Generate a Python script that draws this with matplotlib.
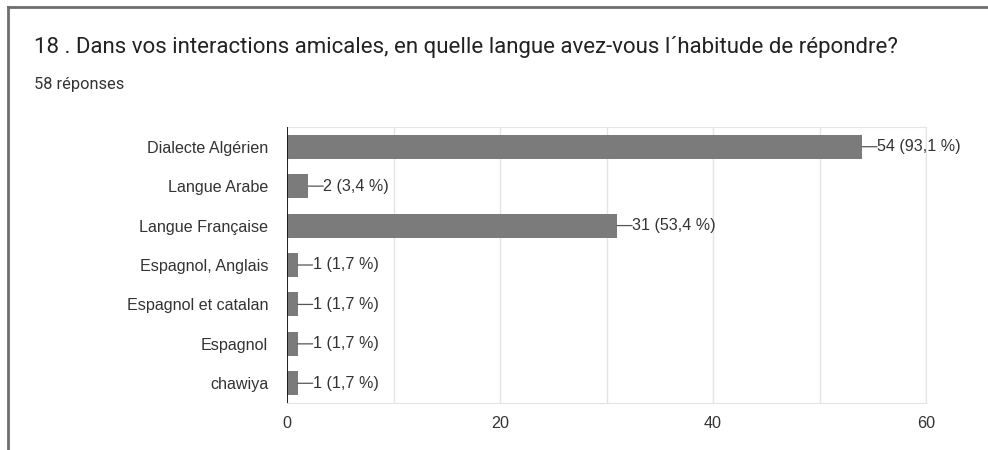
import matplotlib
matplotlib.use("Agg")
import matplotlib.pyplot as plt
from matplotlib.ticker import MultipleLocator

categories = ["Dialecte Algérien", "Langue Arabe", "Langue Française",
              "Espagnol, Anglais", "Espagnol et catalan", "Espagnol", "chawiya"]
counts = [54, 2, 31, 1, 1, 1, 1]
percents = ["93,1", "3,4", "53,4", "1,7", "1,7", "1,7", "1,7"]
title = "18 . Dans vos interactions amicales, en quelle langue avez-vous l´habitude de répondre?"
subtitle = "58 réponses"
xticks = [0, 20, 40, 60]

fig = plt.figure(figsize=(9.88, 4.5), dpi=100)
fig.patch.set_facecolor("white")

# outer border lines (top and left)
fig.add_artist(plt.Line2D([8/988, 1], [1-7/450, 1-7/450], transform=fig.transFigure,
                          color="#6e6e6e", lw=2))
fig.add_artist(plt.Line2D([8/988, 8/988], [0, 1-7/450], transform=fig.transFigure,
                          color="#6e6e6e", lw=2))

fig.text(34/988, 1-47/450, title, fontsize=16, family=["Roboto", "DejaVu Sans"],
         color="#222222", va="center", ha="left")
fig.text(34/988, 1-84/450, subtitle, fontsize=11.8, family=["Roboto", "DejaVu Sans"],
         color="#333333", va="center", ha="left")

lab_font = ["Liberation Sans", "DejaVu Sans"]
fs = 11.6

ax = fig.add_axes([287/988, 1-403/450, (926-287)/988, (403-127)/450])
y = list(range(len(categories)))
ax.barh(y, counts, height=0.61, color="#7b7b7b", zorder=3)
ax.set_ylim(len(categories)-0.5, -0.5)
ax.set_xlim(0, 60)
ax.set_yticks(y)
ax.set_yticklabels(categories, family=lab_font, fontsize=fs, color="#333333")
ax.set_xticks(xticks)
ax.set_xticklabels([str(t) for t in xticks], family=lab_font, fontsize=fs, color="#333333")
ax.xaxis.set_minor_locator(MultipleLocator(10))
ax.grid(axis="x", which="both", color="#e4e4e4", lw=1, zorder=0)
ax.tick_params(axis="both", which="both", length=0)
ax.tick_params(axis="y", pad=13.5)
ax.tick_params(axis="x", pad=9)
for s in ["top", "right", "bottom"]:
    ax.spines[s].set_color("#e4e4e4")
ax.spines["left"].set_visible(False)
ax.axvline(0, color="#111111", lw=1.3, zorder=4)

for i, (c, p) in enumerate(zip(counts, percents)):
    ax.annotate("", xy=(c, i), xytext=(15, 0), textcoords="offset pixels",
                arrowprops=dict(arrowstyle="-", color="#555555", lw=0.9,
                                shrinkA=0, shrinkB=0), zorder=5)
    ax.annotate(f"{c} ({p} %)", xy=(c, i), xytext=(15, 0), textcoords="offset pixels",
                ha="left", va="center", fontsize=fs, family=lab_font, color="#333333",
                zorder=5)

fig.savefig("out.png", dpi=100, facecolor="white")
